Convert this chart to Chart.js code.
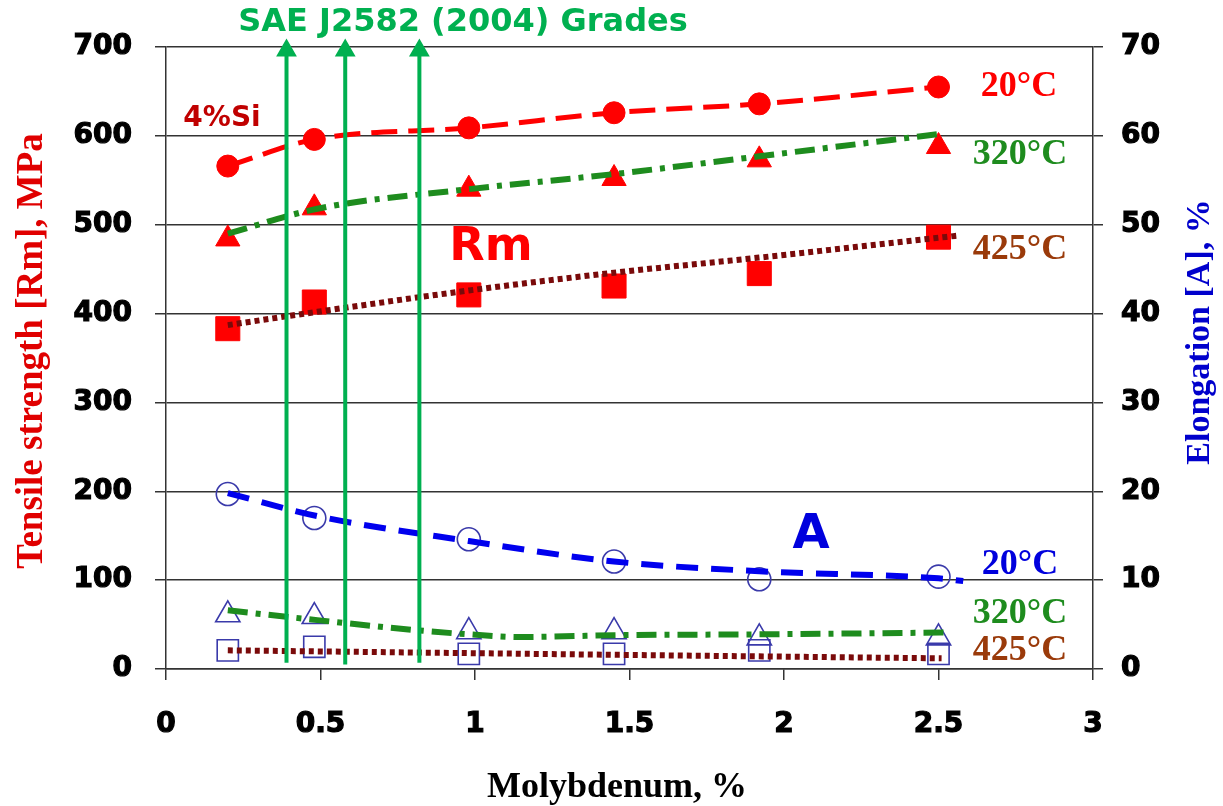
<!DOCTYPE html>
<html>
<head>
<meta charset="utf-8">
<script src="https://cdn.jsdelivr.net/npm/chart.js@4"></script>
<style>
  body { margin: 0; background: #fff; }
  #wrap { width: 1223px; height: 806px; }
</style>
</head>
<body>
<div id="wrap"><canvas id="chart"></canvas></div>
<script>
// Molybdenum content, %
const moly = [0.2, 0.48, 0.98, 1.45, 1.92, 2.5];

// Tensile strength Rm, MPa (filled red markers)
const rm20 = [566, 596, 609, 626, 636, 655];
const rm320 = [484, 519, 540, 552, 573, 588];
const rm425 = [383, 413, 421, 431, 445, 486];

// Elongation A, % (open blue markers)
const a20 = [19.7, 17.0, 14.6, 12.1, 10.1, 10.4];
const a320 = [6.1, 5.9, 4.2, 4.2, 3.5, 3.5];
const a425 = [2.1, 2.5, 1.7, 1.7, 2.1, 1.7];

// trend lines
const rm320TrendX = [0.2, 0.49, 0.98, 1.45, 1.92, 2.5];
const rm320Trend = [490, 518, 540, 557, 577, 602];
const rm425TrendX = [0.2, 0.49, 0.98, 1.45, 1.92, 2.57];
const rm425Trend = [387, 402, 426, 446, 463, 488];
const a20TrendX = [0.2, 0.49, 0.98, 1.45, 1.92, 2.5, 2.58];
const a20Trend = [19.8, 17.2, 14.4, 12.1, 11.0, 10.2, 9.9];
const a320TrendX = [0.2, 0.49, 0.8, 0.98, 1.15, 1.45, 1.92, 2.52];
const a320Trend = [6.6, 5.5, 4.4, 3.9, 3.6, 3.8, 3.9, 4.1];
const a425TrendX = [0.2, 1.45, 2.51];
const a425Trend = [2.1, 1.6, 1.2];

// SAE J2582 grade arrows (Mo %), from bottom to top in MPa
const gradeX = [0.39, 0.58, 0.82];
const gradeBottom = [7, 5, 7];
const gradeTop = 696;

const RED = "#ff0000";
const GREEN = "#1e8c1e";
const BROWN = "#7a0a0a";
const BLUE = "#0000ee";
const MARK_BLUE = "#3a3aaa";
const SAE_GREEN = "#00b050";
const GRID = "#333333";

function pts(xs, ys) {
    return xs.map((x, i) => ({ x: x, y: ys[i] }));
}

function markers(ys, style, radius, filled, axis) {
    return {
        data: pts(moly, ys),
        yAxisID: axis,
        showLine: false,
        pointStyle: style,
        pointRadius: radius,
        pointBackgroundColor: filled ? RED : "rgba(0,0,0,0)",
        pointBorderColor: filled ? RED : MARK_BLUE,
        pointBorderWidth: filled ? 1 : 1.6,
        order: 2
    };
}

function trend(xs, ys, color, dash, width, axis) {
    return {
        data: pts(xs, ys),
        yAxisID: axis,
        showLine: true,
        borderColor: color,
        borderWidth: width,
        borderDash: dash,
        borderCapStyle: "butt",
        pointRadius: 0,
        cubicInterpolationMode: "monotone",
        order: 1
    };
}

const datasets = [
    markers(rm20, "circle", 11, true, "y"),
    markers(rm320, "triangle", 14, true, "y"),
    markers(rm425, "rect", 17, true, "y"),
    markers(a20, "circle", 11.5, false, "y2"),
    markers(a320, "triangle", 14, false, "y2"),
    markers(a425, "rect", 15, false, "y2"),
    trend(moly, rm20, RED, [26, 11], 5, "y"),
    trend(rm320TrendX, rm320Trend, GREEN, [20, 8, 5, 8], 6, "y"),
    trend(rm425TrendX, rm425Trend, BROWN, [5, 4], 6, "y"),
    trend(a20TrendX, a20Trend, BLUE, [22, 13], 6, "y2"),
    trend(a320TrendX, a320Trend, GREEN, [20, 8, 5, 8], 6, "y2"),
    trend(a425TrendX, a425Trend, BROWN, [5, 4], 6, "y2")
];

gradeX.forEach((gx, i) => {
    datasets.push({
        data: [{ x: gx, y: gradeBottom[i] }, { x: gx, y: gradeTop }],
        yAxisID: "y",
        showLine: true,
        borderColor: SAE_GREEN,
        borderWidth: 4,
        pointStyle: "triangle",
        pointRadius: [0, 8],
        pointBackgroundColor: SAE_GREEN,
        pointBorderColor: SAE_GREEN,
        clip: false,
        order: 0
    });
});

function text(ctx, str, x, y, font, color, angle) {
    ctx.save();
    ctx.translate(x, y);
    if (angle) ctx.rotate(angle);
    ctx.font = font;
    ctx.fillStyle = color;
    ctx.textAlign = "center";
    ctx.textBaseline = "middle";
    ctx.fillText(str, 0, 0);
    ctx.restore();
}

const labelsPlugin = {
    id: "labels",
    afterDraw(chart) {
        const ctx = chart.ctx;
        const sans = "bold {s}px 'DejaVu Sans'";
        const serif = "bold {s}px 'Liberation Serif'";
        const f = (t, s) => t.replace("{s}", s);

        text(ctx, "SAE J2582 (2004) Grades", 463, 23, f(sans, 32), SAE_GREEN);
        text(ctx, "4%Si", 222, 119, f(sans, 28), "#c00000");
        text(ctx, "Rm", 491, 248, f(sans, 46), RED);
        text(ctx, "A", 811, 536, f(sans, 48), "#0000dd");

        text(ctx, "20°C", 1019, 87, f(serif, 36), RED);
        text(ctx, "320°C", 1020, 155, f(serif, 36), GREEN);
        text(ctx, "425°C", 1020, 250, f(serif, 36), "#9a3a0a");
        text(ctx, "20°C", 1020, 565, f(serif, 36), "#0000dd");
        text(ctx, "320°C", 1020, 614, f(serif, 36), GREEN);
        text(ctx, "425°C", 1020, 651, f(serif, 36), "#9a3a0a");

        text(ctx, "Tensile strength [Rm], MPa", 32, 351, f(serif, 37), "#e00000", -Math.PI / 2);
        text(ctx, "Elongation [A], %", 1200, 332, f(serif, 34), "#0000cc", -Math.PI / 2);
        text(ctx, "Molybdenum, %", 617, 788, f(serif, 36), "#000000");
    }
};

const tickFont = { family: "'DejaVu Sans'", size: 28, weight: "bold" };
const tickOpts = { font: tickFont, color: "#000", textStrokeColor: "#000", textStrokeWidth: 1.2 };

new Chart(document.getElementById("chart"), {
    type: "scatter",
    data: { datasets: datasets },
    options: {
        responsive: true,
        maintainAspectRatio: false,
        animation: false,
        events: [],
        layout: { padding: { top: 47, left: 0, right: 0, bottom: 0 } },
        plugins: {
            legend: { display: false },
            tooltip: { enabled: false }
        },
        scales: {
            x: {
                type: "linear",
                min: 0,
                max: 3,
                ticks: { ...tickOpts, stepSize: 0.5, padding: 28, callback: v => String(v) },
                grid: { drawOnChartArea: false, tickLength: 11, color: GRID, lineWidth: 1.5 },
                border: { color: GRID, width: 1.5 },
                afterFit: s => { s.height = 137; }
            },
            y: {
                position: "left",
                min: 0,
                max: 700,
                ticks: { ...tickOpts, stepSize: 100, padding: 23 },
                grid: { color: GRID, lineWidth: 1.5, tickLength: 11 },
                border: { color: GRID, width: 1.5 },
                afterFit: s => { s.width = 166; }
            },
            y2: {
                position: "right",
                min: 0,
                max: 70,
                ticks: { ...tickOpts, stepSize: 10, padding: 18 },
                grid: { drawOnChartArea: false, color: GRID, lineWidth: 1.5, tickLength: 10 },
                border: { color: GRID, width: 1.5 },
                afterFit: s => { s.width = 130; }
            }
        }
    },
    plugins: [labelsPlugin]
});
</script>
</body>
</html>
